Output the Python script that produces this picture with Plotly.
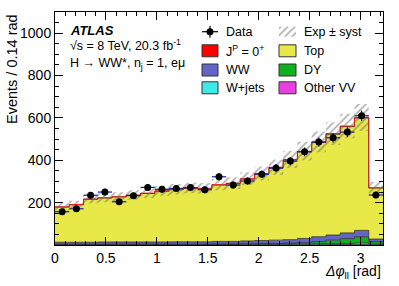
import plotly.graph_objects as go
import numpy as np

# ---------------- data ----------------
bin_width = 0.14
n_bins = 23
bin_edges = [round(i * bin_width, 2) for i in range(n_bins + 1)]
bin_centers = [round((i + 0.5) * bin_width, 3) for i in range(n_bins)]

data_counts = [157, 171, 235, 250, 204, 233, 272, 263, 267, 271, 261, 322,
               283, 302, 334, 363, 396, 440, 486, 506, 533, 610, 236]

other_vv = [1, 1, 1, 1, 1, 1, 1, 1, 1, 1, 1, 1, 1, 1, 1, 1, 1, 1, 1, 2, 2, 2, 1]
w_jets   = [2, 2, 2, 2, 2, 2, 2, 2, 2, 2, 2, 2, 2, 3, 3, 3, 3, 3, 4, 4, 5, 7, 3]
dy       = [1, 1, 1, 1, 1, 1, 1, 1, 1, 1, 1, 2, 2, 2, 3, 3, 5, 7, 11, 17, 23, 30, 12]
ww       = [9, 9, 9, 10, 10, 10, 10, 10, 11, 11, 11, 12, 12, 13, 14, 16, 16, 20,
            23, 24, 27, 30, 12]
top      = [166, 177, 203, 208, 213, 221, 229, 240, 246, 252, 251, 266, 273,
            292, 315, 341, 376, 409, 445, 476, 502, 530, 241]
signal   = [1, 1, 1, 1, 1, 1, 2, 2, 2, 2, 2, 2, 2, 2, 2, 3, 3, 3, 3, 3, 3, 3, 1]
syst     = [17, 18, 20, 21, 21, 22, 23, 24, 25, 25, 25, 27, 28, 30, 33, 36, 40,
            44, 49, 54, 58, 64, 27]

x_ticks = [0, 0.5, 1, 1.5, 2, 2.5, 3]
y_ticks = [200, 400, 600, 800, 1000]

layers = [
    ("Other VV", other_vv, "#e840e0"),
    ("W+jets", w_jets, "#40e8e8"),
    ("DY", dy, "#10b020"),
    ("WW", ww, "#6464c8"),
    ("Top", top, "#e8e848"),
    ("J<sup>P</sup> = 0<sup>+</sup>", signal, "#ff0000"),
]

FONT = "Liberation Sans, Arial, Helvetica, sans-serif"
HATCH = dict(shape="/", fgcolor="#6a6a6a", bgcolor="rgba(0,0,0,0)", size=5,
             solidity=0.35, fillmode="overlay")

fig = go.Figure()

def step(vals):
    v = list(vals)
    return v + [v[-1]]

cum = np.zeros(n_bins)
for i, (name, vals, col) in enumerate(layers):
    cum = cum + np.array(vals, dtype=float)
    line_col = "#ff0000" if col == "#ff0000" else "#2a2a2a"
    fig.add_trace(go.Scatter(
        x=bin_edges, y=step(cum), mode="lines", line_shape="hv",
        line=dict(color=line_col, width=0.8),
        fill="tozeroy" if i == 0 else "tonexty", fillcolor=col,
        showlegend=False, hoverinfo="skip"))

total = cum
band_lo = total - np.array(syst)
band_hi = total + np.array(syst)
fig.add_trace(go.Scatter(x=bin_edges, y=step(band_lo), mode="lines",
                         line_shape="hv", line=dict(width=0, color="rgba(0,0,0,0)"),
                         showlegend=False, hoverinfo="skip"))
fig.add_trace(go.Scatter(x=bin_edges, y=step(band_hi), mode="lines",
                         line_shape="hv", line=dict(width=0, color="rgba(0,0,0,0)"),
                         fill="tonexty", fillcolor="rgba(0,0,0,0)",
                         fillpattern=HATCH, showlegend=False, hoverinfo="skip"))

# data
fig.add_trace(go.Scatter(
    x=bin_centers, y=data_counts, mode="markers",
    marker=dict(color="black", size=7),
    error_y=dict(type="data", array=list(np.sqrt(data_counts)), color="#1c1c9c",
                 thickness=1.2, width=0),
    error_x=dict(type="constant", value=bin_width / 2, color="#1c1c9c",
                 thickness=1.2, width=0),
    showlegend=False, hoverinfo="skip"))

# ---------- layout geometry (page pixels, body margin removed) ----------
W, H = 399, 286
L, R, T, B = 55, 383, 12, 245          # plot box in pixels

def xp(px):
    return (px - L) / (R - L)

def yp(py):
    return (B - py) / (B - T)

shapes = []
annotations = []

rows = [31.7, 50.8, 70.0, 87.8]
c1_box, c1_txt = (202, 218), 224
c2_box, c2_txt = (279, 296), 302
leg_font = dict(family=FONT, size=12.5, color="black")

# Data entry
shapes.append(dict(type="line", xref="paper", yref="paper",
                   x0=xp(c1_box[0]), x1=xp(c1_box[1]), y0=yp(rows[0]), y1=yp(rows[0]),
                   line=dict(color="black", width=1.2)))
shapes.append(dict(type="line", xref="paper", yref="paper",
                   x0=xp(210), x1=xp(210), y0=yp(rows[0] - 6), y1=yp(rows[0] + 6),
                   line=dict(color="black", width=1.2)))
shapes.append(dict(type="circle", xref="paper", yref="paper",
                   x0=xp(206.5), x1=xp(213.5), y0=yp(rows[0] - 3.5), y1=yp(rows[0] + 3.5),
                   fillcolor="black", line=dict(color="black", width=0)))
annotations.append(dict(text="Data", xref="paper", yref="paper", x=xp(c1_txt),
                        y=yp(rows[0]), xanchor="left", yanchor="middle",
                        showarrow=False, font=leg_font))

legend_items = [
    (1, 1, "J<sup>P</sup> = 0<sup>+</sup>", "#ff0000"),
    (1, 2, "WW", "#6464c8"),
    (1, 3, "W+jets", "#40e8e8"),
    (2, 1, "Top", "#e8e848"),
    (2, 2, "DY", "#10b020"),
    (2, 3, "Other VV", "#e840e0"),
]
for col, row, label, color in legend_items:
    bx, tx = (c1_box, c1_txt) if col == 1 else (c2_box, c2_txt)
    yc = rows[row]
    shapes.append(dict(type="rect", xref="paper", yref="paper",
                       x0=xp(bx[0]), x1=xp(bx[1]), y0=yp(yc + 6), y1=yp(yc - 6),
                       fillcolor=color, line=dict(color="#333333", width=1)))
    annotations.append(dict(text=label, xref="paper", yref="paper", x=xp(tx),
                            y=yp(yc), xanchor="left", yanchor="middle",
                            showarrow=False, font=leg_font))

annotations.append(dict(text="Exp ± syst", xref="paper", yref="paper", x=xp(c2_txt),
                        y=yp(rows[0]), xanchor="left", yanchor="middle",
                        showarrow=False, font=leg_font))

# hatched legend box via overlay pixel axes
fig.add_trace(go.Scatter(
    x=[c2_box[0], c2_box[1], c2_box[1], c2_box[0], c2_box[0]],
    y=[rows[0] - 5, rows[0] - 5, rows[0] + 5, rows[0] + 5, rows[0] - 5],
    xaxis="x2", yaxis="y2", mode="lines", line=dict(width=0, color="rgba(0,0,0,0)"),
    fill="toself", fillcolor="rgba(0,0,0,0)", fillpattern=HATCH,
    showlegend=False, hoverinfo="skip"))

# ATLAS labels
annotations.append(dict(text="<b><i>ATLAS</i></b>", xref="paper", yref="paper",
                        x=xp(68), y=yp(30), xanchor="left", yanchor="middle",
                        showarrow=False, font=dict(family=FONT, size=13, color="black")))
annotations.append(dict(text="√s = 8 TeV, 20.3 fb<sup>-1</sup>", xref="paper",
                        yref="paper", x=xp(68), y=yp(45), xanchor="left",
                        yanchor="middle", showarrow=False,
                        font=dict(family=FONT, size=12.5, color="black")))
annotations.append(dict(text="H → WW*, n<sub>j</sub> = 1, eμ", xref="paper",
                        yref="paper", x=xp(68), y=yp(64), xanchor="left",
                        yanchor="middle", showarrow=False,
                        font=dict(family=FONT, size=12.5, color="black")))

# axis titles
annotations.append(dict(text="<i>Δφ</i><sub>ll</sub> [rad]", xref="paper", yref="paper",
                        x=1.0, y=yp(272), xanchor="right", yanchor="middle",
                        showarrow=False, font=dict(family=FONT, size=14, color="black")))
annotations.append(dict(text="Events / 0.14 rad", xref="paper", yref="paper",
                        x=xp(12), y=1.0, xanchor="center", yanchor="top",
                        textangle=-90, showarrow=False,
                        font=dict(family=FONT, size=14.5, color="black")))

fig.update_layout(
    width=W, height=H,
    margin=dict(l=L, r=W - R, t=T, b=H - B, pad=0),
    paper_bgcolor="white", plot_bgcolor="white",
    font=dict(family=FONT, size=14, color="black"),
    showlegend=False, hovermode=False,
    shapes=shapes, annotations=annotations,
    xaxis=dict(range=[0, bin_edges[-1]], tickvals=x_ticks,
               ticktext=[str(v) for v in x_ticks],
               ticks="inside", ticklen=8, tickcolor="black", tickwidth=1,
               minor=dict(dtick=0.1, tick0=0, ticks="inside", ticklen=4,
                          tickcolor="black", tickwidth=1),
               showline=True, linecolor="black", linewidth=1, mirror="allticks",
               showgrid=False, zeroline=False, automargin=False,
               tickfont=dict(family=FONT, size=14, color="black")),
    yaxis=dict(range=[0, 1100], tickvals=y_ticks,
               ticktext=[str(v) for v in y_ticks],
               ticks="inside", ticklen=8, tickcolor="black", tickwidth=1,
               minor=dict(dtick=50, tick0=0, ticks="inside", ticklen=4,
                          tickcolor="black", tickwidth=1),
               showline=True, linecolor="black", linewidth=1, mirror="allticks",
               showgrid=False, zeroline=False, automargin=False,
               tickfont=dict(family=FONT, size=14, color="black")),
    xaxis2=dict(range=[L, R], overlaying="x", visible=False, fixedrange=True),
    yaxis2=dict(range=[B, T], overlaying="y", visible=False, fixedrange=True),
)

fig.write_html("out.html", config={"displayModeBar": False, "staticPlot": True},
               post_script="document.body.style.margin='0';document.body.style.padding='0';")
